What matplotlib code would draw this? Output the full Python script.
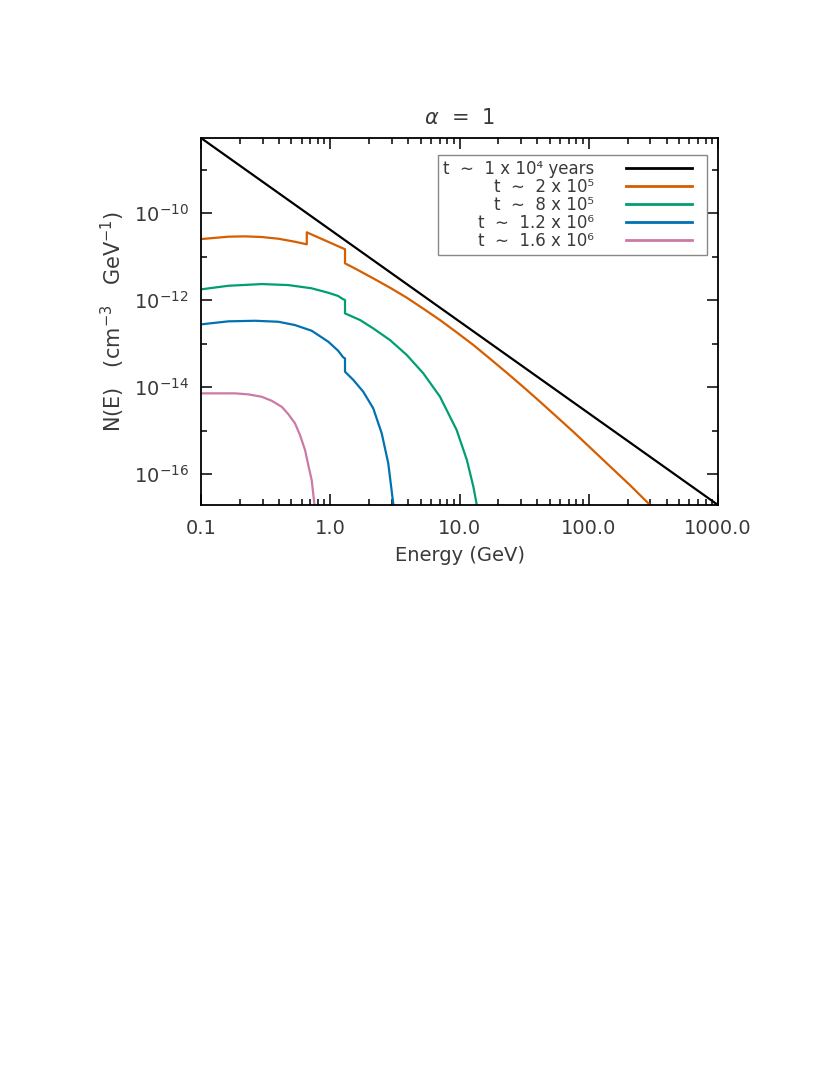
import numpy as np
import matplotlib
matplotlib.use('Agg')
import matplotlib.pyplot as plt
from matplotlib.lines import Line2D
from matplotlib.legend_handler import HandlerLine2D

# Energy (GeV) and N(E) (cm^-3 GeV^-1)
e_black = [0.1, 1000.0]
n_black = [5.30e-9, 1.94e-17]

e_orange = [0.100, 0.163, 0.219, 0.295, 0.396, 0.533, 0.658, 0.658, 1.30, 1.30,
            1.60, 2.15, 2.90, 3.91, 5.25, 7.06, 9.50, 12.8, 17.2, 23.2, 31.2,
            42.0, 56.5, 75.9, 102.0, 138.0, 208.0, 298.0]
n_orange = [2.52e-11, 2.86e-11, 2.91e-11, 2.81e-11, 2.57e-11, 2.19e-11, 1.91e-11, 3.60e-11,
            1.47e-11, 6.98e-12, 5.07e-12, 3.15e-12, 1.92e-12, 1.13e-12, 6.32e-13, 3.47e-13,
            1.81e-13, 9.25e-14, 4.48e-14, 2.13e-14, 1.00e-14, 4.59e-15, 2.07e-15, 9.37e-16,
            4.11e-16, 1.76e-16, 5.58e-17, 1.94e-17]

e_green = [0.100, 0.163, 0.295, 0.473, 0.718, 0.966, 1.15, 1.26, 1.30, 1.30,
           1.70, 2.15, 2.90, 3.91, 5.25, 7.06, 9.50, 11.4, 12.8, 13.6]
n_green = [1.76e-12, 2.13e-12, 2.33e-12, 2.21e-12, 1.86e-12, 1.47e-12, 1.24e-12, 1.04e-12,
           1.00e-12, 4.94e-13, 3.47e-13, 2.23e-13, 1.20e-13, 5.44e-14, 2.06e-14, 6.00e-15,
           1.03e-15, 2.10e-16, 5.10e-17, 1.94e-17]

e_blue = [0.100, 0.163, 0.262, 0.396, 0.533, 0.718, 0.966, 1.15, 1.26, 1.30, 1.30,
          1.51, 1.80, 2.15, 2.50, 2.81, 3.08]
n_blue = [2.76e-13, 3.24e-13, 3.34e-13, 3.17e-13, 2.66e-13, 1.97e-13, 1.10e-13, 6.84e-14,
          4.80e-14, 4.56e-14, 2.25e-14, 1.45e-14, 7.80e-15, 3.24e-15, 8.63e-16, 1.76e-16,
          1.94e-17]

e_pink = [0.100, 0.183, 0.232, 0.295, 0.352, 0.421, 0.473, 0.533, 0.583, 0.638,
          0.676, 0.718, 0.755]
n_pink = [7.16e-15, 7.16e-15, 6.79e-15, 5.98e-15, 4.84e-15, 3.52e-15, 2.39e-15, 1.47e-15,
          7.88e-16, 3.56e-16, 1.61e-16, 7.28e-17, 1.94e-17]

labels = ['t  \u223c  1 x 10\u2074 years',
          't  \u223c  2 x 10\u2075',
          't  \u223c  8 x 10\u2075',
          't  \u223c  1.2 x 10\u2076',
          't  \u223c  1.6 x 10\u2076']
colors = ['black', '#D55E00', '#009E73', '#0072B2', '#CC79A7']

x_ticks = [0.1, 1.0, 10.0, 100.0, 1000.0]
x_ticklabels = ['0.1', '1.0', '10.0', '100.0', '1000.0']
y_ticks = [1e-16, 1e-14, 1e-12, 1e-10]
y_ticklabels = [r'10$^{-16}$', r'10$^{-14}$', r'10$^{-12}$', r'10$^{-10}$']
y_minor = [1e-15, 1e-13, 1e-11, 1e-9]

text_col = '#3a3a3a'
plt.rcParams['font.family'] = ['DejaVu Sans']

fig = plt.figure(figsize=(8.3, 10.75), dpi=100)
ax = fig.add_axes([0.2422, 0.5302, 0.6229, 0.3414])

series = [(e_black, n_black), (e_orange, n_orange), (e_green, n_green),
          (e_blue, n_blue), (e_pink, n_pink)]
for (e, n), c, lab in zip(series, colors, labels):
    ax.plot(e, n, color=c, lw=1.6, label=lab, solid_joinstyle='round')

ax.set_xscale('log')
ax.set_yscale('log')
ax.set_xlim(0.1, 1000)
ax.set_ylim(1.94e-17, 5.30e-9)

ax.set_xticks(x_ticks)
ax.set_xticklabels(x_ticklabels)
ax.xaxis.set_minor_locator(matplotlib.ticker.LogLocator(base=10, subs=np.arange(2, 10)))
ax.xaxis.set_minor_formatter(matplotlib.ticker.NullFormatter())
ax.set_yticks(y_ticks)
ax.set_yticklabels(y_ticklabels)
ax.set_yticks(y_minor, minor=True)
ax.yaxis.set_minor_formatter(matplotlib.ticker.NullFormatter())

ax.tick_params(which='both', direction='in', top=True, right=True,
               width=1.1, color='black', labelcolor=text_col, labelsize=14)
ax.tick_params(which='major', length=8)
ax.tick_params(which='minor', length=4)
ax.tick_params(axis='x', which='major', pad=10)
ax.tick_params(axis='y', which='major', pad=9)
for s in ax.spines.values():
    s.set_linewidth(1.3)

ax.set_xlabel('Energy (GeV)', fontsize=14, color=text_col, labelpad=6)
ax.set_ylabel(r'N(E)   (cm$^{-3}$   GeV$^{-1}$)', fontsize=15, color=text_col, labelpad=5)
ax.set_title(r'$\alpha$  =  1', fontsize=15, color=text_col, pad=10)

leg = ax.legend(loc='upper right', bbox_to_anchor=(0.979, 0.954), markerfirst=False,
                fancybox=False, framealpha=1, edgecolor='#888888', fontsize=12,
                handlelength=5.2, labelspacing=0.0, borderpad=0.3,
                handletextpad=1.3, borderaxespad=0,
                handler_map={Line2D: HandlerLine2D(numpoints=2, marker_pad=0.6)})
leg.get_frame().set_linewidth(1.0)
for t in leg.get_texts():
    t.set_color(text_col)
for h in leg.get_lines():
    h.set_linewidth(2.0)

plt.savefig('out.png', dpi=100)
